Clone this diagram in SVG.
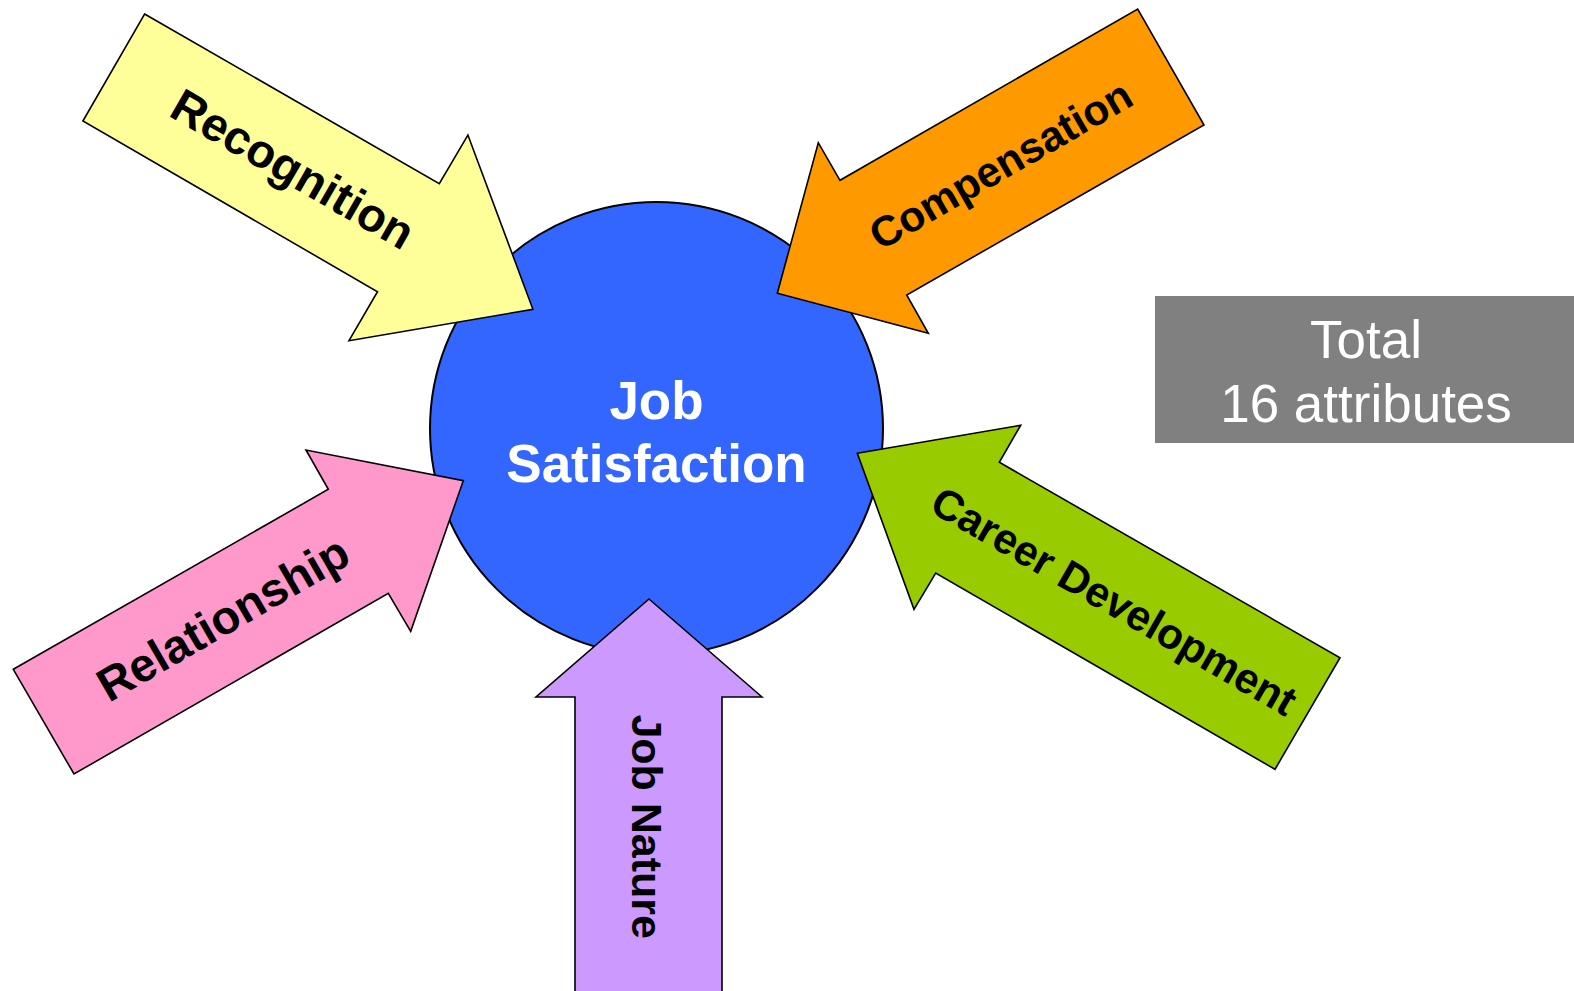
<svg xmlns="http://www.w3.org/2000/svg" width="1574" height="991" viewBox="0 0 1574 991">
<style>
.arrow{stroke:#000;stroke-width:1.6;stroke-linejoin:miter}
.lbl{font-family:"Liberation Sans",Arial,sans-serif;font-weight:bold;fill:#000;text-anchor:middle}
.big{font-size:47px}
.small{font-size:42.5px}
.ctr{font-family:"Liberation Sans",Arial,sans-serif;font-weight:bold;font-size:53px;fill:#fff;text-anchor:middle}
.tot{font-family:"Liberation Sans",Arial,sans-serif;font-size:53px;fill:#fff;text-anchor:middle}
</style>
<rect width="1574" height="991" fill="#fff"/>
<g id="center">
<circle cx="656.5" cy="428.5" r="226.5" fill="#3366FF" stroke="#000" stroke-width="2"/>
<text class="ctr" x="656.5" y="419">Job</text>
<text class="ctr" x="656.5" y="482">Satisfaction</text>
</g>
<g id="connectors">
<g id="recognition">
<polygon class="arrow" fill="#FFFF99" points="144.6,14 439.3,183.7 467.9,135 532.9,309.3 349,340.7 377.5,291.7 82.9,121"/>
<text class="lbl big" transform="translate(291,172.5) rotate(30)" y="12.2">Recognition</text>
</g>
<g id="compensation">
<polygon class="arrow" fill="#FF9900" points="777.3,293.3 818.3,142.7 840,180.3 1137.7,9 1204,125 906.7,295 928.3,333.3"/>
<text class="lbl small" transform="translate(1002.5,168) rotate(-30)" y="11">Compensation</text>
</g>
<g id="relationship">
<polygon class="arrow" fill="#FF99CC" points="13.3,669.3 328.3,489.3 306,450 463.3,480.7 410.7,631.3 388.3,593.3 74,774"/>
<text class="lbl big" transform="translate(225,622) rotate(-30)" y="12.2">Relationship</text>
</g>
<g id="career">
<polygon class="arrow" fill="#99CC00" points="857.3,453.3 1020.7,425.3 999.3,462.3 1340,657.7 1275,769.3 935.7,573 914,609.3"/>
<text class="lbl small" transform="translate(1112.3,604.2) rotate(30)" y="11">Career Development</text>
</g>
<g id="jobnature">
<polygon class="arrow" fill="#CC99FF" points="649,599 762,697 722,697 722,1000 575,1000 575,697 536,697"/>
<text class="lbl small" style="font-size:43px" transform="translate(647.5,826.7) rotate(90)" y="15.5">Job Nature</text>
</g>
</g>
<g id="total">
<rect x="1155" y="296" width="425" height="147" fill="#808080"/>
<text class="tot" x="1366" y="358">Total</text>
<text class="tot" x="1366" y="422">16 attributes</text>
</g>
</svg>
